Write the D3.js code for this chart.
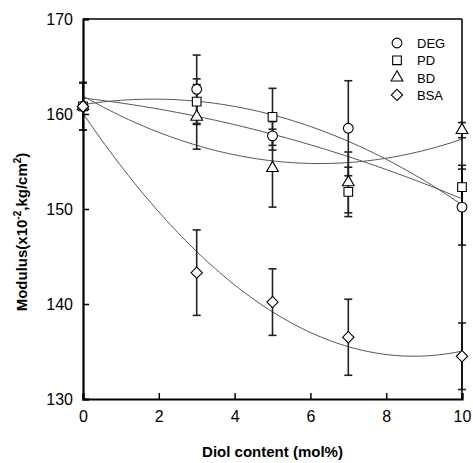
<!DOCTYPE html>
<html><head><meta charset="utf-8">
<script src="https://cdn.jsdelivr.net/npm/d3@7"></script>
<style>html,body{margin:0;padding:0;background:#fff;}svg{display:block;}</style>
</head><body><svg id="c" width="473" height="463"></svg>
<script>
const xValues = [0, 3, 5, 7, 10];
const seriesNames = ["DEG", "PD", "BD", "BSA"];
const degValues = [160.8, 162.6, 157.7, 158.5, 150.2];
const degErrors = [2.5, 3.6, 1.5, 5.0, 4.0];
const pdValues  = [160.8, 161.3, 159.7, 151.8, 152.3];
const pdErrors  = [2.5, 2.4, 3.0, 2.6, 2.3];
const bdValues  = [160.8, 159.7, 154.3, 152.8, 158.3];
const bdErrors  = [2.5, 3.4, 4.1, 3.2, 0.8];
const bsaValues = [160.8, 143.3, 140.2, 136.5, 134.5];
const bsaErrors = [2.5, 4.5, 3.5, 4.0, 3.5];
const xTicks = [0, 2, 4, 6, 8, 10];
const yTicks = [130, 140, 150, 160, 170];
const symbols = ["circle", "square", "triangle", "diamond"];

const series = [
  {name: seriesNames[0], v: degValues, e: degErrors, sym: symbols[0]},
  {name: seriesNames[1], v: pdValues,  e: pdErrors,  sym: symbols[1]},
  {name: seriesNames[2], v: bdValues,  e: bdErrors,  sym: symbols[2]},
  {name: seriesNames[3], v: bsaValues, e: bsaErrors, sym: symbols[3]}
];

const L = 83, R = 462, T = 19, B = 399;
const x = d3.scaleLinear().domain([0, 10]).range([L, R]);
const y = d3.scaleLinear().domain([130, 170]).range([B, T]);
const svg = d3.select("#c");
svg.append("rect").attr("width", 473).attr("height", 463).attr("fill", "#fff");

// quadratic least squares fit
function quadFit(xs, ys) {
  let S = [0,0,0,0,0], Sy = [0,0,0];
  xs.forEach((xi, i) => {
    for (let k = 0; k < 5; k++) S[k] += Math.pow(xi, k);
    for (let k = 0; k < 3; k++) Sy[k] += Math.pow(xi, k) * ys[i];
  });
  const A = [[S[0],S[1],S[2],Sy[0]],[S[1],S[2],S[3],Sy[1]],[S[2],S[3],S[4],Sy[2]]];
  for (let i = 0; i < 3; i++) {
    let p = A[i][i];
    for (let j = i; j < 4; j++) A[i][j] /= p;
    for (let r = 0; r < 3; r++) if (r !== i) {
      const f = A[r][i];
      for (let j = i; j < 4; j++) A[r][j] -= f * A[i][j];
    }
  }
  return [A[0][3], A[1][3], A[2][3]];
}

// curves
const xs = d3.range(0, 10.001, 0.1);
const line = d3.line().x(d => x(d[0])).y(d => y(d[1]));
series.forEach(s => {
  const c = quadFit(xValues, s.v);
  svg.append("path")
    .attr("d", line(xs.map(t => [t, c[0] + c[1]*t + c[2]*t*t])))
    .attr("fill", "none").attr("stroke", "#555").attr("stroke-width", 1);
});

// error bars
series.forEach(s => {
  xValues.forEach((xv, i) => {
    const g = svg.append("g").attr("stroke", "#222").attr("stroke-width", 1.6);
    const lo = s.v[i] - s.e[i], hi = s.v[i] + s.e[i];
    g.append("line").attr("x1", x(xv)).attr("x2", x(xv)).attr("y1", y(lo)).attr("y2", y(hi));
    g.append("line").attr("x1", x(xv) - 4).attr("x2", x(xv) + 4).attr("y1", y(lo)).attr("y2", y(lo));
    g.append("line").attr("x1", x(xv) - 4).attr("x2", x(xv) + 4).attr("y1", y(hi)).attr("y2", y(hi));
  });
});

// axes frame
svg.append("line").attr("x1", L).attr("x2", R).attr("y1", T).attr("y2", T).attr("stroke", "#000").attr("stroke-width", 1.5);
svg.append("line").attr("x1", R).attr("x2", R).attr("y1", T).attr("y2", B).attr("stroke", "#000").attr("stroke-width", 1.5);

const xAxis = svg.append("g").attr("transform", `translate(0,${B})`)
  .call(d3.axisBottom(x).tickValues(xTicks).tickSize(-6).tickPadding(12).tickFormat(d3.format("d")));
const yAxis = svg.append("g").attr("transform", `translate(${L},0)`)
  .call(d3.axisLeft(y).tickValues(yTicks).tickSize(-6).tickPadding(10).tickFormat(d3.format("d")));
[xAxis, yAxis].forEach(a => {
  a.select(".domain").attr("stroke", "#000").attr("stroke-width", 2.2);
  a.selectAll(".tick line").attr("stroke", "#000").attr("stroke-width", 1.5);
  a.selectAll("text").attr("font-family", "Liberation Sans, Arial, sans-serif").attr("font-size", 16).attr("fill", "#000");
});

// markers
const symMap = {circle: d3.symbolCircle, square: d3.symbolSquare, triangle: d3.symbolTriangle, diamond: d3.symbolSquare};
const symSize = {circle: 75, square: 75, triangle: 60, diamond: 64};
const symRot = {circle: 0, square: 0, triangle: 0, diamond: 45};
series.forEach(s => {
  xValues.forEach((xv, i) => {
    svg.append("path")
      .attr("d", d3.symbol().type(symMap[s.sym]).size(symSize[s.sym])())
      .attr("transform", `translate(${x(xv)},${y(s.v[i])}) rotate(${symRot[s.sym]})`)
      .attr("fill", "#fff").attr("stroke", "#000").attr("stroke-width", 1.1);
  });
});

// legend
series.forEach((s, i) => {
  const ly = 43 + i * 17.3;
  svg.append("path")
    .attr("d", d3.symbol().type(symMap[s.sym]).size(symSize[s.sym])())
    .attr("transform", `translate(397,${ly}) rotate(${symRot[s.sym]})`)
    .attr("fill", "#fff").attr("stroke", "#000").attr("stroke-width", 1.1);
  svg.append("text").attr("x", 417).attr("y", ly + 5).text(s.name)
    .attr("font-family", "Liberation Sans, Arial, sans-serif").attr("font-size", 13).attr("fill", "#000");
});

// axis titles
svg.append("text").attr("x", (L + R) / 2).attr("y", 457).attr("text-anchor", "middle")
  .attr("font-family", "Liberation Sans, Arial, sans-serif").attr("font-weight", "bold").attr("font-size", 15)
  .text("Diol content (mol%)");
const yt = svg.append("text").attr("transform", `translate(27,${(T + B) / 2 + 23}) rotate(-90)`)
  .attr("text-anchor", "middle")
  .attr("font-family", "Liberation Sans, Arial, sans-serif").attr("font-weight", "bold").attr("font-size", 15);
yt.append("tspan").text("Modulus(x10");
yt.append("tspan").attr("dy", -6).attr("font-size", 10).text("-2");
yt.append("tspan").attr("dy", 6).text(",kg/cm");
yt.append("tspan").attr("dy", -6).attr("font-size", 10).text("2");
yt.append("tspan").attr("dy", 6).text(")");
</script></body></html>
